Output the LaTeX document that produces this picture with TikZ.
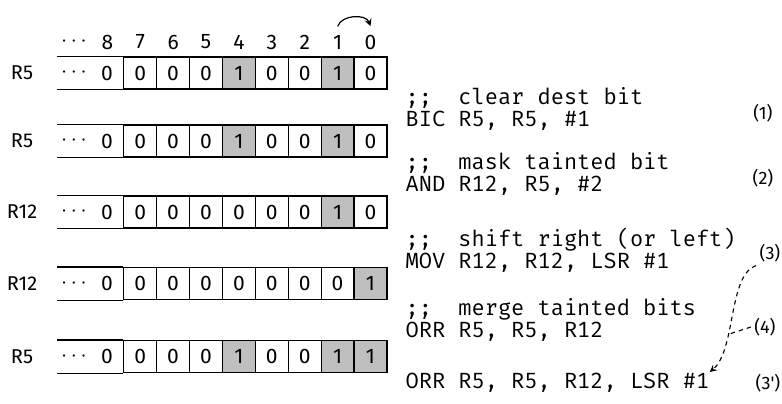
\documentclass[tikz,border=0pt]{standalone}
\usepackage{fontspec}
\setmainfont{Fira Sans}
\setmonofont{Fira Mono}
\usepackage{xcolor}
\usepackage{tikz}
\usetikzlibrary{positioning}

\newcommand{\codefont}{\fontsize{11}{13}\selectfont\ttfamily}
\newcommand{\labelfont}{\fontsize{10}{12}\selectfont}
\newcommand{\stepfont}{\fontsize{9}{11}\selectfont}
\newcommand{\bitfont}{\fontsize{10.5}{12}\selectfont}

\tikzset{
  bitcell/.style={draw, minimum width=16.45pt, minimum height=16pt, inner sep=0pt, font=\bitfont},
  bitnum/.style={inner sep=0pt, font=\bitfont},
  reglabel/.style={inner sep=0pt, font=\labelfont},
  codeline/.style={anchor=base west, inner sep=0pt, font=\codefont},
  steplabel/.style={inner sep=1.5pt, font=\stepfont},
  flow/.style={dash pattern=on 2.2pt off 2pt, line width=0.55pt},
}

\begin{document}
\begin{tikzpicture}[x=0.5pt, y=-0.5pt, line width=0.6pt, >=stealth]
\useasboundingbox (0,0) rectangle (782,403);

% bit numbers
\node[bitnum] (hdots) at (74,42) {$\cdots$};
\foreach \k in {0,...,8}
  \node[bitnum] (h\k) at ({370.5-32.9*\k},42) {\k};
\draw[->] ([yshift=4pt]h1.north) to[bend left=70] ([yshift=4pt]h0.north);

% registers
\foreach \r/\y/\reg/\bits in {1/73/R5/{0,0,0,1,0,0,1,0},
                              2/141/R5/{0,0,0,1,0,0,1,0},
                              3/212/R12/{0,0,0,0,0,0,1,0},
                              4/283.5/R12/{0,0,0,0,0,0,0,1},
                              5/356.5/R5/{0,0,0,1,0,0,1,1}} {
  \node[reglabel] (reg\r) at (22,\y) {\reg};
  \foreach \b [count=\i from 0, evaluate=\b as \pct using int(25*\b)] in \bits
    \node[bitcell, fill=black!\pct] (r\r-\i) at ({370.5-32.9*(7-\i)},\y) {\b};
  \node[bitnum] (r\r-top) at (107,\y) {0};
  \node[bitnum] (r\r-dots) at (74,\y) {$\cdots$};
  \draw (r\r-0.north west) -- ++(-66,0);
  \draw (r\r-0.south west) -- ++(-66,0);
}

% code (baselines)
\node[codeline] (c1) at (405,104) {;;~~clear dest bit};
\node[codeline] (c2) at (405,126) {BIC R5, R5, \#1};
\node[codeline] (c3) at (405,169) {;;~~mask tainted bit};
\node[codeline] (c4) at (405,191) {AND R12, R5, \#2};
\node[codeline] (c5) at (405,246) {;;~~shift right (or left)};
\node[codeline] (c6) at (405,268) {MOV R12, R12, LSR \#1};
\node[codeline] (c7) at (405,315) {;;~~merge tainted bits};
\node[codeline] (c8) at (405,337) {ORR R5, R5, R12};
\node[codeline] (c9) at (405,388) {ORR R5, R5, R12, LSR \#1};

% steps
\node[steplabel] (s1) at (763,113) {(1)};
\node[steplabel] (s2) at (763,178) {(2)};
\node[steplabel] (s3) at (770,253) {(3)};
\node[steplabel] (s4) at (765,327) {(4)};
\node[steplabel] (s3p) at (768,383) {(3\textquotesingle)};

\draw[flow, ->] (s3.south west) .. controls (728,275) and (736,350) .. (c9.north east)
  coordinate[pos=0.65] (mid);
\draw[flow] (s4.west) -- (mid);
\end{tikzpicture}
\end{document}
